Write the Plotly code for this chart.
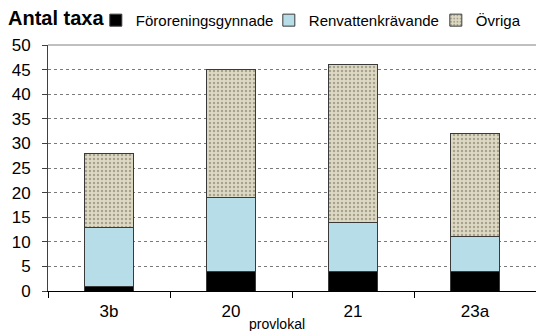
import plotly.graph_objects as go

# Number of taxa per sampling site, split by indicator group
sites = ["3b", "20", "21", "23a"]
fororeningsgynnade = [1, 4, 4, 4]
renvattenkravande = [12, 15, 10, 7]
ovriga = [15, 26, 32, 21]
y_ticks = [0, 5, 10, 15, 20, 25, 30, 35, 40, 45, 50]

FONT = "Liberation Sans, Arial, sans-serif"
edge = dict(color="#3a3a3a", width=1)

fig = go.Figure()
fig.add_trace(go.Bar(
    name="Föroreningsgynnade", x=sites, y=fororeningsgynnade,
    marker=dict(color="#000000", line=edge), legendwidth=128,
))
fig.add_trace(go.Bar(
    name="Renvattenkrävande", x=sites, y=renvattenkravande,
    marker=dict(color="#B7DEE8", line=edge), legendwidth=122,
))
fig.add_trace(go.Bar(
    name="Övriga", x=sites, y=ovriga,
    marker=dict(
        color="#DDD9C3", line=edge,
        pattern=dict(shape=".", fillmode="overlay", fgcolor="#6e6a58",
                     size=4, solidity=0.3),
    ),
))

fig.update_layout(
    width=536, height=331,
    margin=dict(l=48, r=0, t=45, b=40),
    paper_bgcolor="white", plot_bgcolor="white",
    barmode="stack", bargap=0.6,
    font=dict(family=FONT, size=16, color="#000000"),
    showlegend=True,
    title=dict(text="<b>Antal taxa</b>", x=0.015, xanchor="left",
               y=0.945, yanchor="middle", font=dict(size=20)),
    legend=dict(orientation="h", x=0.098, xanchor="left", y=1.10,
                yanchor="middle", traceorder="normal",
                font=dict(size=15), bgcolor="rgba(0,0,0,0)",
                itemwidth=30, tracegroupgap=0),
    xaxis=dict(
        type="category", categoryarray=sites, range=[-0.5, 3.5],
        tickson="boundaries", ticks="outside", ticklen=6, tickcolor="#000000",
        showline=True, linecolor="#000000", linewidth=1,
        showgrid=False, ticklabelstandoff=5, tickfont=dict(size=17),
    ),
    # inner half of the crossing category ticks
    xaxis2=dict(
        type="category", categoryarray=sites, range=[-0.5, 3.5],
        overlaying="x", anchor="y", side="bottom",
        tickson="boundaries", ticks="inside", ticklen=6, tickcolor="#000000",
        showticklabels=False, showgrid=False, showline=False,
        tickmode="array", tickvals=sites,
    ),
    yaxis=dict(
        range=[0, 50], tickvals=y_ticks, ticks="outside", ticklen=5,
        tickcolor="#404040", showline=True, linecolor="#404040", linewidth=1,
        showgrid=True, gridcolor="#7a7a7a", griddash="dot", gridwidth=1,
        zeroline=False, ticklabelstandoff=8, tickfont=dict(size=17),
    ),
    annotations=[dict(
        text="provlokal", xref="paper", yref="paper", x=0.469, y=-0.136,
        xanchor="center", yanchor="middle", showarrow=False,
        font=dict(size=14),
    )],
    shapes=[dict(type="line", xref="paper", yref="paper", x0=0, x1=1,
                 y0=1, y1=1, line=dict(color="#808080", width=1))],
)

fig.write_html("out.html")
